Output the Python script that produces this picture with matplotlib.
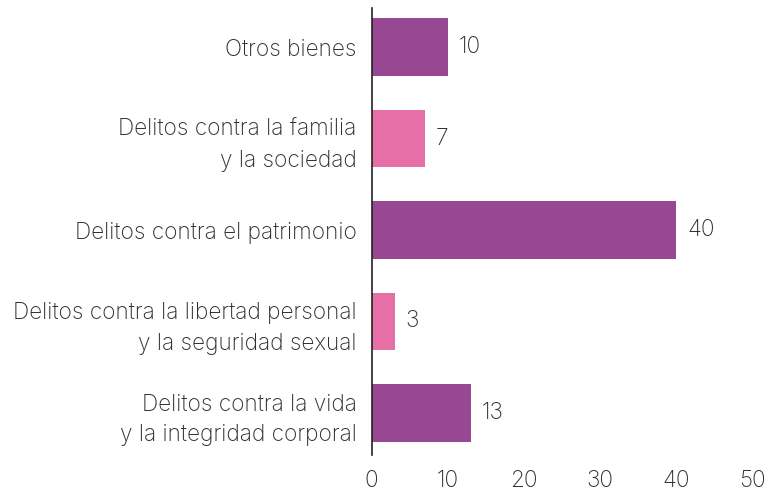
import matplotlib.pyplot as plt

categories = [
    "Delitos contra la vida\ny la integridad corporal",
    "Delitos contra la libertad personal\ny la seguridad sexual",
    "Delitos contra el patrimonio",
    "Delitos contra la familia\ny la sociedad",
    "Otros bienes",
]
values = [13, 3, 40, 7, 10]
bar_colors = ["#984793", "#E56FA6", "#984793", "#E56FA6", "#984793"]
xticks = [0, 10, 20, 30, 40, 50]

plt.rcParams["font.family"] = ["Inter", "DejaVu Sans"]
plt.rcParams["font.weight"] = "light"
text_color = "#2e2e2e"
fs = 16.3

fig = plt.figure(figsize=(7.68, 4.95), dpi=100)
ax = fig.add_axes([0.484, 0.081, 0.496, 0.903])

y = list(range(len(categories)))
ax.barh(y, values, height=0.63, color=bar_colors)

for yi, v in zip(y, values):
    ax.annotate(str(v), (v, yi), xytext=(8, 0), textcoords="offset points",
                va="center", ha="left", fontsize=fs, color=text_color)

ax.set_xlim(0, 50)
ax.set_ylim(-0.46, 4.43)
ax.set_xticks(xticks)
ax.set_yticks(y)
ax.set_yticklabels(categories, ha="right", multialignment="right",
                   linespacing=1.52)

for s in ["top", "right", "bottom"]:
    ax.spines[s].set_visible(False)
ax.spines["left"].set_color("#222222")
ax.spines["left"].set_linewidth(1.2)

ax.tick_params(axis="x", length=0, pad=11, labelsize=fs, labelcolor=text_color)
ax.tick_params(axis="y", length=0, pad=11, labelsize=fs, labelcolor=text_color)

fig.savefig("out.png", dpi=100)
